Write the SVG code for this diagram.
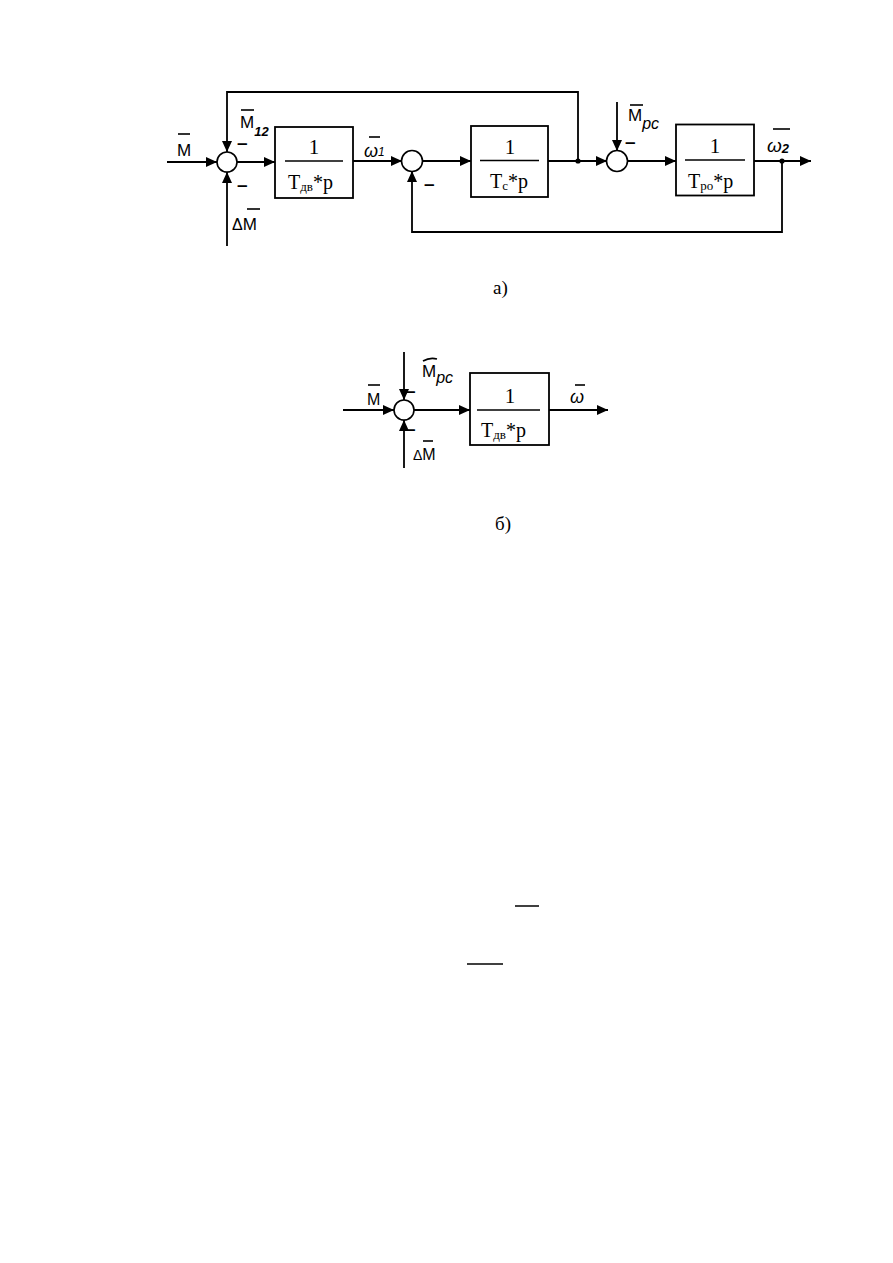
<svg xmlns="http://www.w3.org/2000/svg" width="893" height="1263" viewBox="0 0 893 1263">
<defs>
<marker id="ar" markerUnits="userSpaceOnUse" markerWidth="11" markerHeight="10" refX="11" refY="5" orient="auto">
<path d="M0,0 L11,5 L0,10 z" fill="#000"/>
</marker>
<style>
.ln{stroke:#000;stroke-width:1.8;fill:none}
.ar{marker-end:url(#ar)}
.box{fill:#fff;stroke:#000;stroke-width:1.8}
.sum{fill:#fff;stroke:#000;stroke-width:1.6}
.fr{stroke:#000;stroke-width:1.5}
.bar{stroke:#000;stroke-width:1.6}
.ser{font-family:"Liberation Serif","Times New Roman",serif;fill:#000}
.hw{font-family:"Liberation Sans",Arial,sans-serif;fill:#000}
.it{font-style:italic}
.mn{font-family:"Liberation Sans",Arial,sans-serif;font-size:19px;font-weight:bold;fill:#000}
</style>
</defs>
<rect width="893" height="1263" fill="#fff"/>

<!-- Diagram a) -->
<g id="connectors-a">
<line class="ln ar" x1="167" y1="162" x2="217" y2="162"/>
<line class="ln ar" x1="237" y1="162" x2="275" y2="162"/>
<line class="ln ar" x1="353" y1="161" x2="402" y2="161"/>
<line class="ln ar" x1="422" y1="161" x2="471" y2="161"/>
<line class="ln ar" x1="548" y1="161" x2="607" y2="161"/>
<line class="ln ar" x1="627" y1="161" x2="676" y2="161"/>
<line class="ln ar" x1="754" y1="161" x2="811" y2="161"/>
<polyline class="ln ar" points="578,161 578,92 227,92 227,152"/>
<polyline class="ln ar" points="782,161 782,232 412,232 412,171"/>
<line class="ln ar" x1="227" y1="246" x2="227" y2="172"/>
<line class="ln ar" x1="617" y1="102" x2="617" y2="151"/>
<circle cx="578" cy="161" r="2.6" fill="#000"/>
<circle cx="782" cy="161" r="2.6" fill="#000"/>
</g>

<g id="sum1">
<circle class="sum" cx="227" cy="162" r="10"/>
<text class="mn" x="237" y="149">–</text>
<text class="mn" x="237" y="191">–</text>
</g>
<g id="sum2">
<circle class="sum" cx="412" cy="161" r="10.5"/>
<text class="mn" x="424" y="190">–</text>
</g>
<g id="sum3">
<circle class="sum" cx="617" cy="161" r="10.5"/>
<text class="mn" x="625" y="148">–</text>
</g>

<g id="block1">
<rect class="box" x="275" y="127" width="78" height="71"/>
<text class="ser" x="314" y="154" font-size="21" text-anchor="middle">1</text>
<line class="fr" x1="285" y1="161" x2="343" y2="161"/>
<text class="ser" x="288" y="189" font-size="20">T<tspan font-size="13" dy="2">дв</tspan><tspan dy="-2">*p</tspan></text>
</g>
<g id="block2">
<rect class="box" x="471" y="126" width="77" height="71"/>
<text class="ser" x="510" y="154" font-size="21" text-anchor="middle">1</text>
<line class="fr" x1="480" y1="160.5" x2="539" y2="160.5"/>
<text class="ser" x="490" y="188" font-size="20">T<tspan font-size="13" dy="2">c</tspan><tspan dy="-2">*p</tspan></text>
</g>
<g id="block3">
<rect class="box" x="676" y="124.5" width="78" height="71"/>
<text class="ser" x="715" y="153" font-size="21" text-anchor="middle">1</text>
<line class="fr" x1="685" y1="160" x2="745" y2="160"/>
<text class="ser" x="688" y="188" font-size="20">T<tspan font-size="13" dy="2">po</tspan><tspan dy="-2">*p</tspan></text>
</g>

<g id="labels-a">
<text class="hw" x="177" y="156" font-size="17">M</text>
<line class="bar" x1="178" y1="134" x2="190" y2="134"/>
<text class="hw" x="240" y="128" font-size="17">M<tspan class="it" font-size="13" font-weight="bold" dy="8">12</tspan></text>
<line class="bar" x1="241" y1="110" x2="254" y2="110"/>
<text class="hw" x="232" y="230" font-size="16">Δ<tspan font-size="17">M</tspan></text>
<line class="bar" x1="247" y1="209" x2="260" y2="209"/>
<text class="hw it" x="364" y="157" font-size="18">ω<tspan font-size="12" dy="-1">1</tspan></text>
<line class="bar" x1="369" y1="137" x2="380" y2="137"/>
<text class="hw" x="628" y="121" font-size="17">M<tspan class="it" font-size="16" dy="8">pc</tspan></text>
<line class="bar" x1="630" y1="105" x2="643" y2="105"/>
<text class="hw it" x="767" y="152" font-size="19">ω<tspan font-size="13" font-weight="bold" dy="1">2</tspan></text>
<line class="bar" x1="773" y1="129" x2="790" y2="129"/>
</g>

<text id="cap-a" class="ser" x="493" y="294" font-size="19">а)</text>

<!-- Diagram б) -->
<g id="connectors-b">
<line class="ln ar" x1="343" y1="410" x2="394" y2="410"/>
<line class="ln ar" x1="404" y1="352" x2="404" y2="400"/>
<line class="ln ar" x1="404" y1="468" x2="404" y2="420"/>
<line class="ln ar" x1="414" y1="410" x2="470" y2="410"/>
<line class="ln ar" x1="549" y1="410" x2="608" y2="410"/>
</g>
<g id="sum-b">
<circle class="sum" cx="404" cy="410" r="10"/>
<text class="mn" x="405" y="397">–</text>
<text class="mn" x="405" y="435">–</text>
</g>
<g id="block-b">
<rect class="box" x="470" y="373" width="79" height="72"/>
<text class="ser" x="510" y="403" font-size="21" text-anchor="middle">1</text>
<line class="fr" x1="477" y1="410" x2="540" y2="410"/>
<text class="ser" x="481" y="437" font-size="20">T<tspan font-size="13" dy="2">дв</tspan><tspan dy="-2">*p</tspan></text>
</g>
<g id="labels-b">
<text class="hw" x="367" y="405" font-size="16">M</text>
<line class="bar" x1="368" y1="385" x2="380" y2="385"/>
<text class="hw" x="422" y="377" font-size="17">M<tspan class="it" font-size="16" dy="6">pc</tspan></text>
<path class="bar" d="M423,361 Q430,357 437,359" fill="none"/>
<text class="hw it" x="570" y="403" font-size="18">ω</text>
<line class="bar" x1="575" y1="385" x2="585" y2="385"/>
<text class="hw" x="413" y="460" font-size="14">Δ<tspan font-size="16">M</tspan></text>
<line class="bar" x1="423" y1="441" x2="433" y2="441"/>
</g>

<text id="cap-b" class="ser" x="495" y="530" font-size="19">б)</text>

<line class="fr" x1="515" y1="906" x2="539" y2="906"/>
<line class="fr" x1="467" y1="964" x2="503" y2="964"/>
</svg>
